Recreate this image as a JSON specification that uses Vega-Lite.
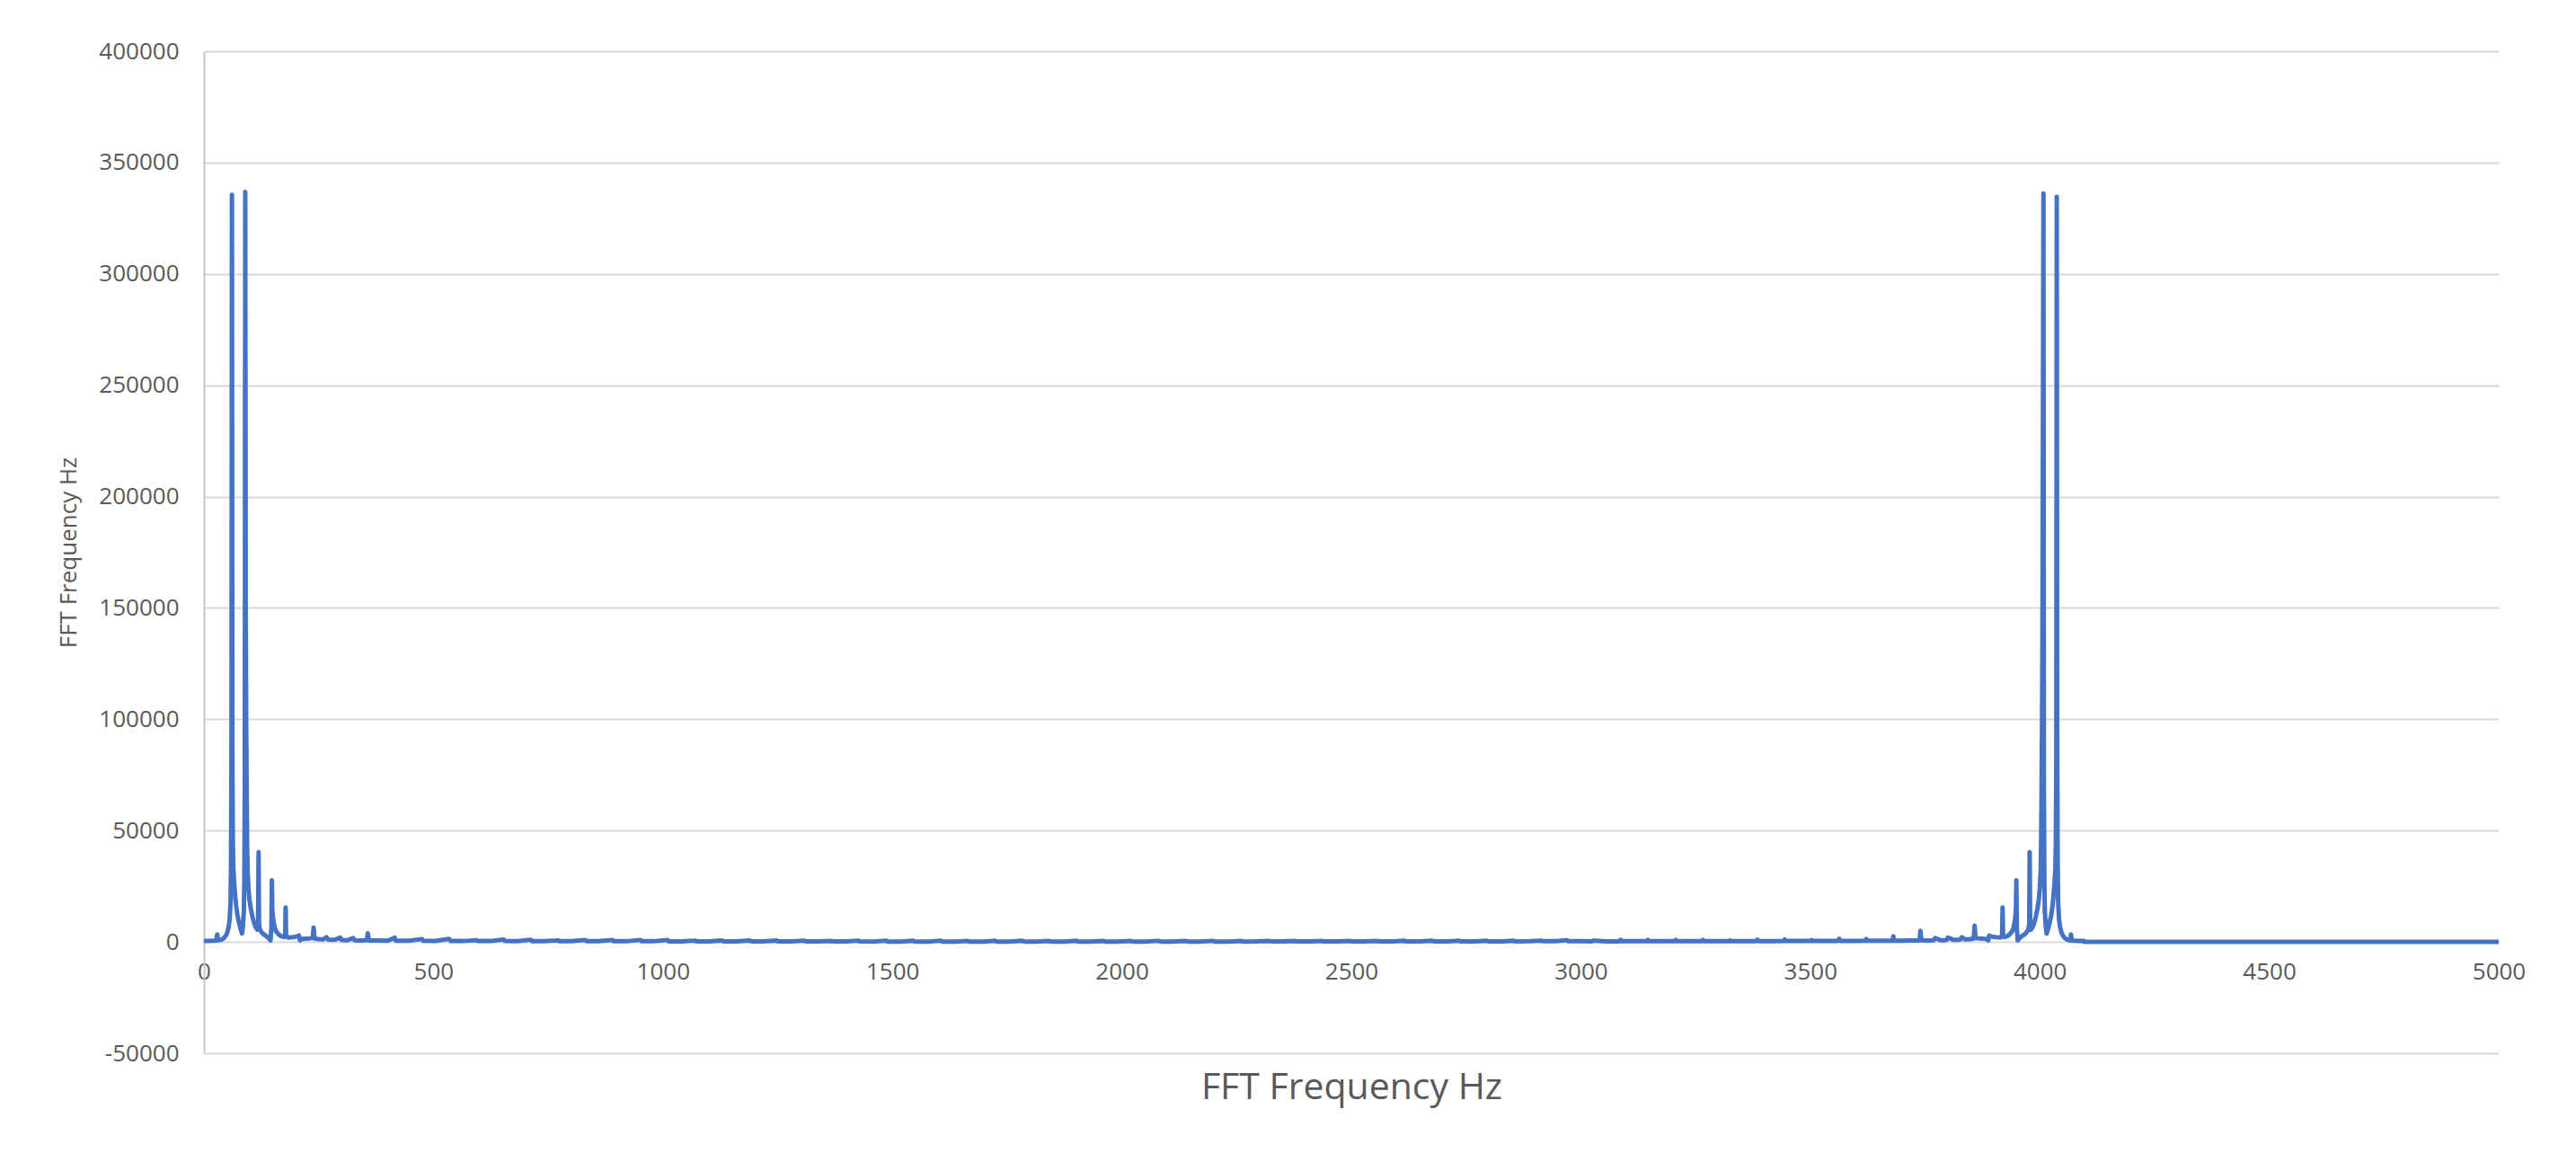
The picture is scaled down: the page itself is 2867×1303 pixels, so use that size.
{
 "$schema": "https://vega.github.io/schema/vega-lite/v6.json",
 "width": 2554,
 "height": 1115,
 "autosize": {"type": "none"},
 "padding": {"left": 227, "top": 57, "right": 86, "bottom": 131},
 "background": "white",
 "config": {"view": {"stroke": null}, "font": "Open Sans"},
 "data": {"values": [
  {"freq":0,"amp":400},{"freq":10,"amp":450},{"freq":20,"amp":500},{"freq":27,"amp":600},{"freq":29,"amp":3400},{"freq":31,"amp":700},{"freq":38,"amp":1000},{"freq":44,"amp":1800},{"freq":48,"amp":3000},{"freq":51,"amp":4400},{"freq":54,"amp":7000},{"freq":56,"amp":10000},{"freq":58,"amp":18000},{"freq":59,"amp":35000},{"freq":60,"amp":90000},{"freq":61,"amp":335500},{"freq":62,"amp":80000},{"freq":63,"amp":45000},{"freq":64,"amp":33000},{"freq":66,"amp":26000},{"freq":68,"amp":21000},{"freq":70,"amp":16500},{"freq":73,"amp":12000},{"freq":76,"amp":9000},{"freq":79,"amp":6500},{"freq":82,"amp":4500},{"freq":83,"amp":3800},{"freq":85,"amp":7000},{"freq":87,"amp":14000},{"freq":88,"amp":28000},{"freq":89,"amp":70000},{"freq":90,"amp":336800},{"freq":91,"amp":150000},{"freq":92,"amp":100000},{"freq":93,"amp":70000},{"freq":94,"amp":45000},{"freq":95,"amp":32000},{"freq":97,"amp":24000},{"freq":99,"amp":19200},{"freq":102,"amp":15000},{"freq":106,"amp":11000},{"freq":110,"amp":8000},{"freq":113,"amp":6500},{"freq":116,"amp":5500},{"freq":118,"amp":9000},{"freq":119,"amp":40300},{"freq":120,"amp":8000},{"freq":122,"amp":5500},{"freq":125,"amp":4500},{"freq":130,"amp":3400},{"freq":136,"amp":2600},{"freq":141,"amp":1800},{"freq":145,"amp":700},{"freq":147,"amp":6000},{"freq":148,"amp":27700},{"freq":149,"amp":14000},{"freq":151,"amp":9800},{"freq":154,"amp":6500},{"freq":158,"amp":4500},{"freq":163,"amp":3300},{"freq":168,"amp":2600},{"freq":174,"amp":2200},{"freq":177,"amp":2500},{"freq":178,"amp":15500},{"freq":179,"amp":3000},{"freq":183,"amp":2000},{"freq":190,"amp":2100},{"freq":198,"amp":2300},{"freq":205,"amp":2600},{"freq":207,"amp":2900},{"freq":209,"amp":700},{"freq":214,"amp":1400},{"freq":222,"amp":1500},{"freq":230,"amp":1600},{"freq":237,"amp":1800},{"freq":239,"amp":6450},{"freq":241,"amp":1500},{"freq":250,"amp":1300},{"freq":260,"amp":1200},{"freq":267,"amp":2100},{"freq":270,"amp":1100},{"freq":285,"amp":1000},{"freq":297,"amp":1900},{"freq":300,"amp":900},{"freq":313,"amp":800},{"freq":325,"amp":1700},{"freq":328,"amp":800},{"freq":342,"amp":700},{"freq":355,"amp":800},{"freq":357,"amp":3900},{"freq":359,"amp":700},{"freq":380,"amp":600},{"freq":400,"amp":550},{"freq":416,"amp":1900},{"freq":418,"amp":550},{"freq":445,"amp":500},{"freq":475,"amp":1300},{"freq":478,"amp":500},{"freq":505,"amp":450},{"freq":534,"amp":1400},{"freq":537,"amp":450},{"freq":565,"amp":400},{"freq":594,"amp":800},{"freq":597,"amp":400},{"freq":625,"amp":400},{"freq":653,"amp":1100},{"freq":656,"amp":400},{"freq":683,"amp":380},{"freq":712,"amp":1000},{"freq":715,"amp":380},{"freq":740,"amp":350},{"freq":772,"amp":700},{"freq":775,"amp":350},{"freq":800,"amp":350},{"freq":831,"amp":900},{"freq":834,"amp":330},{"freq":860,"amp":320},{"freq":890,"amp":900},{"freq":893,"amp":320},{"freq":920,"amp":300},{"freq":951,"amp":900},{"freq":954,"amp":300},{"freq":980,"amp":300},{"freq":1010,"amp":900},{"freq":1013,"amp":280},{"freq":1040,"amp":260},{"freq":1070,"amp":600},{"freq":1073,"amp":250},
  {"freq":1100,"amp":240},{"freq":1129,"amp":650},{"freq":1132,"amp":240},{"freq":1160,"amp":230},{"freq":1189,"amp":650},{"freq":1192,"amp":230},{"freq":1220,"amp":220},{"freq":1248,"amp":650},{"freq":1251,"amp":220},{"freq":1280,"amp":210},{"freq":1308,"amp":600},{"freq":1311,"amp":210},{"freq":1340,"amp":200},{"freq":1367,"amp":450},{"freq":1370,"amp":200},{"freq":1400,"amp":200},{"freq":1426,"amp":600},{"freq":1429,"amp":200},{"freq":1460,"amp":190},{"freq":1486,"amp":600},{"freq":1489,"amp":190},{"freq":1520,"amp":180},{"freq":1545,"amp":550},{"freq":1548,"amp":180},{"freq":1580,"amp":180},{"freq":1605,"amp":600},{"freq":1608,"amp":180},{"freq":1640,"amp":170},{"freq":1664,"amp":400},{"freq":1667,"amp":170},{"freq":1700,"amp":170},{"freq":1723,"amp":550},{"freq":1726,"amp":170},{"freq":1755,"amp":170},{"freq":1783,"amp":550},{"freq":1786,"amp":170},{"freq":1815,"amp":170},{"freq":1842,"amp":400},{"freq":1845,"amp":170},{"freq":1875,"amp":170},{"freq":1901,"amp":550},{"freq":1904,"amp":170},{"freq":1930,"amp":170},{"freq":1961,"amp":400},{"freq":1964,"amp":170},{"freq":1990,"amp":170},{"freq":2020,"amp":400},{"freq":2023,"amp":170},{"freq":2050,"amp":180},{"freq":2081,"amp":500},{"freq":2084,"amp":180},{"freq":2110,"amp":180},{"freq":2140,"amp":400},{"freq":2143,"amp":180},{"freq":2170,"amp":190},{"freq":2199,"amp":500},{"freq":2202,"amp":190},{"freq":2230,"amp":190},{"freq":2260,"amp":450},{"freq":2263,"amp":190},{"freq":2290,"amp":200},{"freq":2320,"amp":450},{"freq":2323,"amp":200},{"freq":2350,"amp":200},{"freq":2378,"amp":450},{"freq":2381,"amp":200},{"freq":2410,"amp":210},{"freq":2438,"amp":450},{"freq":2441,"amp":210},{"freq":2470,"amp":220},{"freq":2497,"amp":450},{"freq":2500,"amp":220},{"freq":2530,"amp":230},{"freq":2557,"amp":450},{"freq":2560,"amp":230},{"freq":2590,"amp":240},{"freq":2616,"amp":500},{"freq":2619,"amp":240},{"freq":2650,"amp":250},{"freq":2676,"amp":500},{"freq":2679,"amp":250},{"freq":2710,"amp":260},{"freq":2735,"amp":500},{"freq":2738,"amp":260},{"freq":2770,"amp":270},{"freq":2795,"amp":550},{"freq":2798,"amp":270},{"freq":2830,"amp":280},{"freq":2854,"amp":550},{"freq":2857,"amp":280},{"freq":2890,"amp":300},{"freq":2913,"amp":600},{"freq":2916,"amp":300},{"freq":2945,"amp":310},{"freq":2970,"amp":800},{"freq":2973,"amp":320},{"freq":3000,"amp":330},
  {"freq":3024,"amp":250},{"freq":3027,"amp":600},{"freq":3057,"amp":260},{"freq":3084,"amp":280},{"freq":3087,"amp":900},{"freq":3090,"amp":300},{"freq":3117,"amp":300},{"freq":3143,"amp":300},{"freq":3146,"amp":900},{"freq":3149,"amp":300},{"freq":3177,"amp":300},{"freq":3204,"amp":320},{"freq":3207,"amp":900},{"freq":3210,"amp":320},{"freq":3237,"amp":320},{"freq":3263,"amp":330},{"freq":3266,"amp":900},{"freq":3269,"amp":340},{"freq":3297,"amp":350},{"freq":3322,"amp":350},{"freq":3325,"amp":700},{"freq":3328,"amp":350},{"freq":3357,"amp":350},{"freq":3382,"amp":380},{"freq":3385,"amp":1000},{"freq":3388,"amp":380},{"freq":3414,"amp":380},{"freq":3441,"amp":400},{"freq":3444,"amp":1100},{"freq":3447,"amp":400},{"freq":3472,"amp":400},{"freq":3500,"amp":400},{"freq":3503,"amp":800},{"freq":3506,"amp":400},{"freq":3532,"amp":400},{"freq":3560,"amp":450},{"freq":3563,"amp":1400},{"freq":3566,"amp":450},{"freq":3592,"amp":450},{"freq":3619,"amp":500},{"freq":3622,"amp":1300},{"freq":3625,"amp":500},{"freq":3652,"amp":500},{"freq":3679,"amp":550},{"freq":3681,"amp":2600},{"freq":3683,"amp":550},{"freq":3697,"amp":550},{"freq":3717,"amp":600},{"freq":3738,"amp":700},{"freq":3740,"amp":5000},{"freq":3742,"amp":800},{"freq":3755,"amp":700},{"freq":3769,"amp":800},{"freq":3772,"amp":1700},{"freq":3784,"amp":800},{"freq":3797,"amp":900},{"freq":3800,"amp":1900},{"freq":3812,"amp":1000},{"freq":3827,"amp":1100},{"freq":3830,"amp":2100},{"freq":3837,"amp":1200},{"freq":3847,"amp":1300},{"freq":3856,"amp":1500},{"freq":3858,"amp":7300},{"freq":3860,"amp":1800},{"freq":3867,"amp":1600},{"freq":3875,"amp":1500},{"freq":3883,"amp":1400},{"freq":3888,"amp":700},{"freq":3890,"amp":2900},{"freq":3892,"amp":2600},{"freq":3899,"amp":2300},{"freq":3907,"amp":2100},{"freq":3914,"amp":2000},{"freq":3918,"amp":3000},{"freq":3919,"amp":15500},{"freq":3920,"amp":2500},{"freq":3923,"amp":2200},{"freq":3929,"amp":2600},{"freq":3934,"amp":3300},{"freq":3939,"amp":4500},{"freq":3943,"amp":6500},{"freq":3946,"amp":9800},{"freq":3948,"amp":14000},{"freq":3949,"amp":27700},{"freq":3950,"amp":6000},{"freq":3952,"amp":700},{"freq":3956,"amp":1800},{"freq":3961,"amp":2600},{"freq":3967,"amp":3400},{"freq":3972,"amp":4500},{"freq":3975,"amp":5500},{"freq":3977,"amp":8000},{"freq":3978,"amp":40300},{"freq":3979,"amp":9000},{"freq":3981,"amp":5500},{"freq":3984,"amp":6500},{"freq":3987,"amp":8000},{"freq":3991,"amp":11000},{"freq":3995,"amp":15000},{"freq":3998,"amp":19200},{"freq":4000,"amp":24000},{"freq":4002,"amp":32000},{"freq":4003,"amp":45000},{"freq":4004,"amp":70000},{"freq":4005,"amp":100000},{"freq":4006,"amp":150000},{"freq":4008,"amp":336100},{"freq":4009,"amp":70000},{"freq":4010,"amp":28000},{"freq":4011,"amp":14000},{"freq":4013,"amp":7000},{"freq":4015,"amp":3800},{"freq":4016,"amp":4500},{"freq":4019,"amp":6500},{"freq":4022,"amp":9000},{"freq":4025,"amp":12000},{"freq":4028,"amp":16500},{"freq":4030,"amp":21000},{"freq":4032,"amp":26000},{"freq":4034,"amp":33000},{"freq":4035,"amp":45000},{"freq":4036,"amp":80000},{"freq":4037,"amp":334600},{"freq":4038,"amp":90000},{"freq":4039,"amp":35000},{"freq":4040,"amp":18000},{"freq":4042,"amp":10000},{"freq":4044,"amp":7000},{"freq":4047,"amp":4400},{"freq":4050,"amp":3000},{"freq":4054,"amp":1800},{"freq":4060,"amp":1000},{"freq":4066,"amp":700},{"freq":4068,"amp":3400},{"freq":4070,"amp":600},{"freq":4077,"amp":500},{"freq":4087,"amp":450},{"freq":4096,"amp":400},{"freq":4097,"amp":0},{"freq":4500,"amp":0},{"freq":5000,"amp":0}
 ]},
 "mark": {"type": "line", "color": "#4472C4", "strokeWidth": 5, "strokeJoin": "round", "strokeCap": "round", "clip": true},
 "encoding": {
  "x": {
   "field": "freq", "type": "quantitative",
   "scale": {"domain": [0, 5000], "nice": false, "zero": false},
   "axis": {
    "orient": "bottom", "offset": -124, "domain": false, "ticks": false, "grid": false,
    "values": [0,500,1000,1500,2000,2500,3000,3500,4000,4500,5000],
    "labelExpr": "'' + datum.value", "labelFlush": false,
    "labelFontSize": 26, "labelColor": "#595959", "labelPadding": 20, "labelFont": "Open Sans",
    "title": "FFT Frequency Hz", "titleFontSize": 41, "titleColor": "#595959", "titleFontWeight": "normal", "titleFont": "Open Sans", "titlePadding": 96
   }
  },
  "y": {
   "field": "amp", "type": "quantitative",
   "scale": {"domain": [-50000, 400000], "nice": false, "zero": false},
   "axis": {
    "orient": "left", "domain": true, "domainColor": "#C8C8C8", "domainWidth": 2,
    "ticks": false, "grid": true, "gridColor": "#D9D9D9", "gridWidth": 2,
    "values": [-50000,0,50000,100000,150000,200000,250000,300000,350000,400000],
    "labelExpr": "'' + datum.value", "labelFlush": false,
    "labelFontSize": 26, "labelColor": "#595959", "labelPadding": 28, "labelFont": "Open Sans",
    "title": "FFT Frequency Hz", "titleFontSize": 26, "titleColor": "#595959", "titleFontWeight": "normal", "titleFont": "Open Sans", "titlePadding": 20
   }
  }
 }
}
